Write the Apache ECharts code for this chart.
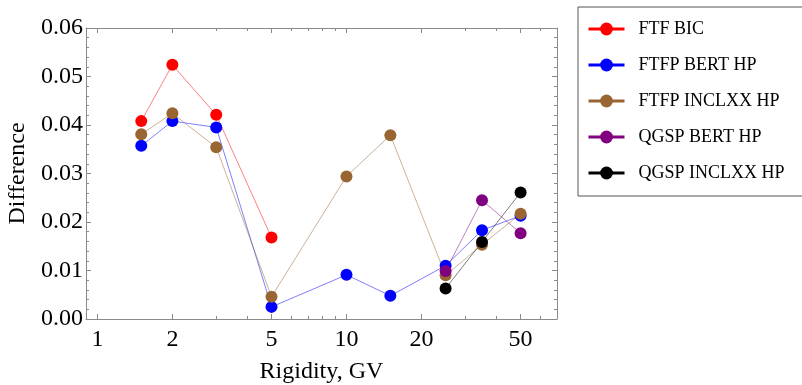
<!DOCTYPE html>
<html>
<head>
<meta charset="utf-8">
<script src="https://cdn.jsdelivr.net/npm/echarts@6/dist/echarts.min.js"></script>
<style>html,body{margin:0;padding:0;background:#fff}#c{width:802px;height:385px}</style>
</head>
<body>
<div id="c"></div>
<script>
// ---- data ----
const seriesNames = ['FTF BIC', 'FTFP BERT HP', 'FTFP INCLXX HP', 'QGSP BERT HP', 'QGSP INCLXX HP'];
const ftfBicX = [1.5, 2, 3, 5];
const ftfBicY = [0.0408, 0.0524, 0.0421, 0.0168];
const ftfpBertX = [1.5, 2, 3, 5, 10, 15, 25, 35, 50];
const ftfpBertY = [0.0357, 0.0408, 0.0395, 0.0025, 0.0091, 0.0048, 0.0110, 0.0183, 0.0213];
const ftfpInclX = [1.5, 2, 3, 5, 10, 15, 25, 35, 50];
const ftfpInclY = [0.0381, 0.0424, 0.0354, 0.0046, 0.0294, 0.0379, 0.0090, 0.0153, 0.0217];
const qgspBertX = [25, 35, 50];
const qgspBertY = [0.0099, 0.0245, 0.0177];
const qgspInclX = [25, 35, 50];
const qgspInclY = [0.0063, 0.0159, 0.0261];
const xMajorTicks = [1, 2, 5, 10, 20, 50];
const xMinorTicks = [3, 4, 6, 7, 8, 9, 30, 40, 60, 70];
const xMin = 0.9, xMax = 70;
const yMin = 0, yMax = 0.06, yStep = 0.01;

const colors = ['#ff0000', '#0000ff', '#996633', '#800080', '#000000'];
const xs = [ftfBicX, ftfpBertX, ftfpInclX, qgspBertX, qgspInclX];
const ys = [ftfBicY, ftfpBertY, ftfpInclY, qgspBertY, qgspInclY];

const font = "'Liberation Serif', 'Times New Roman', serif";
const frame = '#8a8a8a';

function xAxisDef(pos, ticks, len, showLine, showLabel) {
  return {
    type: 'log', logBase: 10, min: xMin, max: xMax, position: pos,
    axisLine: { show: showLine, lineStyle: { color: frame, width: 1 } },
    axisTick: { show: true, inside: true, length: len, customValues: ticks, lineStyle: { color: frame } },
    axisLabel: { show: showLabel, customValues: ticks, color: '#000', fontFamily: font, fontSize: 24, margin: 9 },
    splitLine: { show: false }, minorTick: { show: false }, minorSplitLine: { show: false }
  };
}
function yAxisDef(pos, showLabel) {
  return {
    type: 'value', min: yMin, max: yMax, interval: yStep, position: pos,
    axisLine: { show: true, lineStyle: { color: frame, width: 1 } },
    axisTick: { show: true, inside: true, length: 5, lineStyle: { color: frame } },
    minorTick: { show: true, splitNumber: 5, length: 3, lineStyle: { color: frame } },
    axisLabel: { show: showLabel, color: '#000', fontFamily: font, fontSize: 24, margin: 3,
      formatter: v => v.toFixed(2) },
    splitLine: { show: false }
  };
}

const xAxes = [
  Object.assign(xAxisDef('bottom', xMajorTicks, 5, true, true), {
    name: 'Rigidity, GV', nameLocation: 'middle', nameGap: 41,
    nameTextStyle: { color: '#000', fontFamily: font, fontSize: 24 }
  }),
  xAxisDef('bottom', xMinorTicks, 3, false, false),
  xAxisDef('top', xMajorTicks, 5, true, false),
  xAxisDef('top', xMinorTicks, 3, false, false)
];
const yAxes = [
  Object.assign(yAxisDef('left', true), {
    name: 'Difference', nameLocation: 'middle', nameGap: 52,
    nameTextStyle: { color: '#000', fontFamily: font, fontSize: 24 }
  }),
  yAxisDef('right', false)
];

const series = seriesNames.map((n, i) => ({
  name: n, type: 'line', xAxisIndex: 0, yAxisIndex: 0,
  data: xs[i].map((x, j) => [x, ys[i][j]]),
  symbol: 'circle', symbolSize: 12,
  itemStyle: { color: colors[i] },
  lineStyle: { color: colors[i], width: 1, opacity: 0.5 },
  emphasis: { disabled: true },
  animation: false
}));

const chart = echarts.init(document.getElementById('c'), null, { renderer: 'canvas' });
chart.setOption({
  backgroundColor: '#fff',
  animation: false,
  grid: { left: 86, right: 245, top: 28, bottom: 66, containLabel: false, outerBoundsMode: 'none' },
  xAxis: xAxes,
  yAxis: yAxes,
  legend: {
    orient: 'vertical', left: 578, top: 7,
    padding: [13, 80, 14, 9],
    itemWidth: 36, itemHeight: 16, itemGap: 18,
    borderColor: '#555', borderWidth: 1, backgroundColor: '#fff',
    lineStyle: { width: 3, opacity: 1 },
    textStyle: { fontFamily: font, fontSize: 18, color: '#000', padding: [0, 0, 0, 9] },
    data: seriesNames
  },
  series: series
});
</script>
</body>
</html>
